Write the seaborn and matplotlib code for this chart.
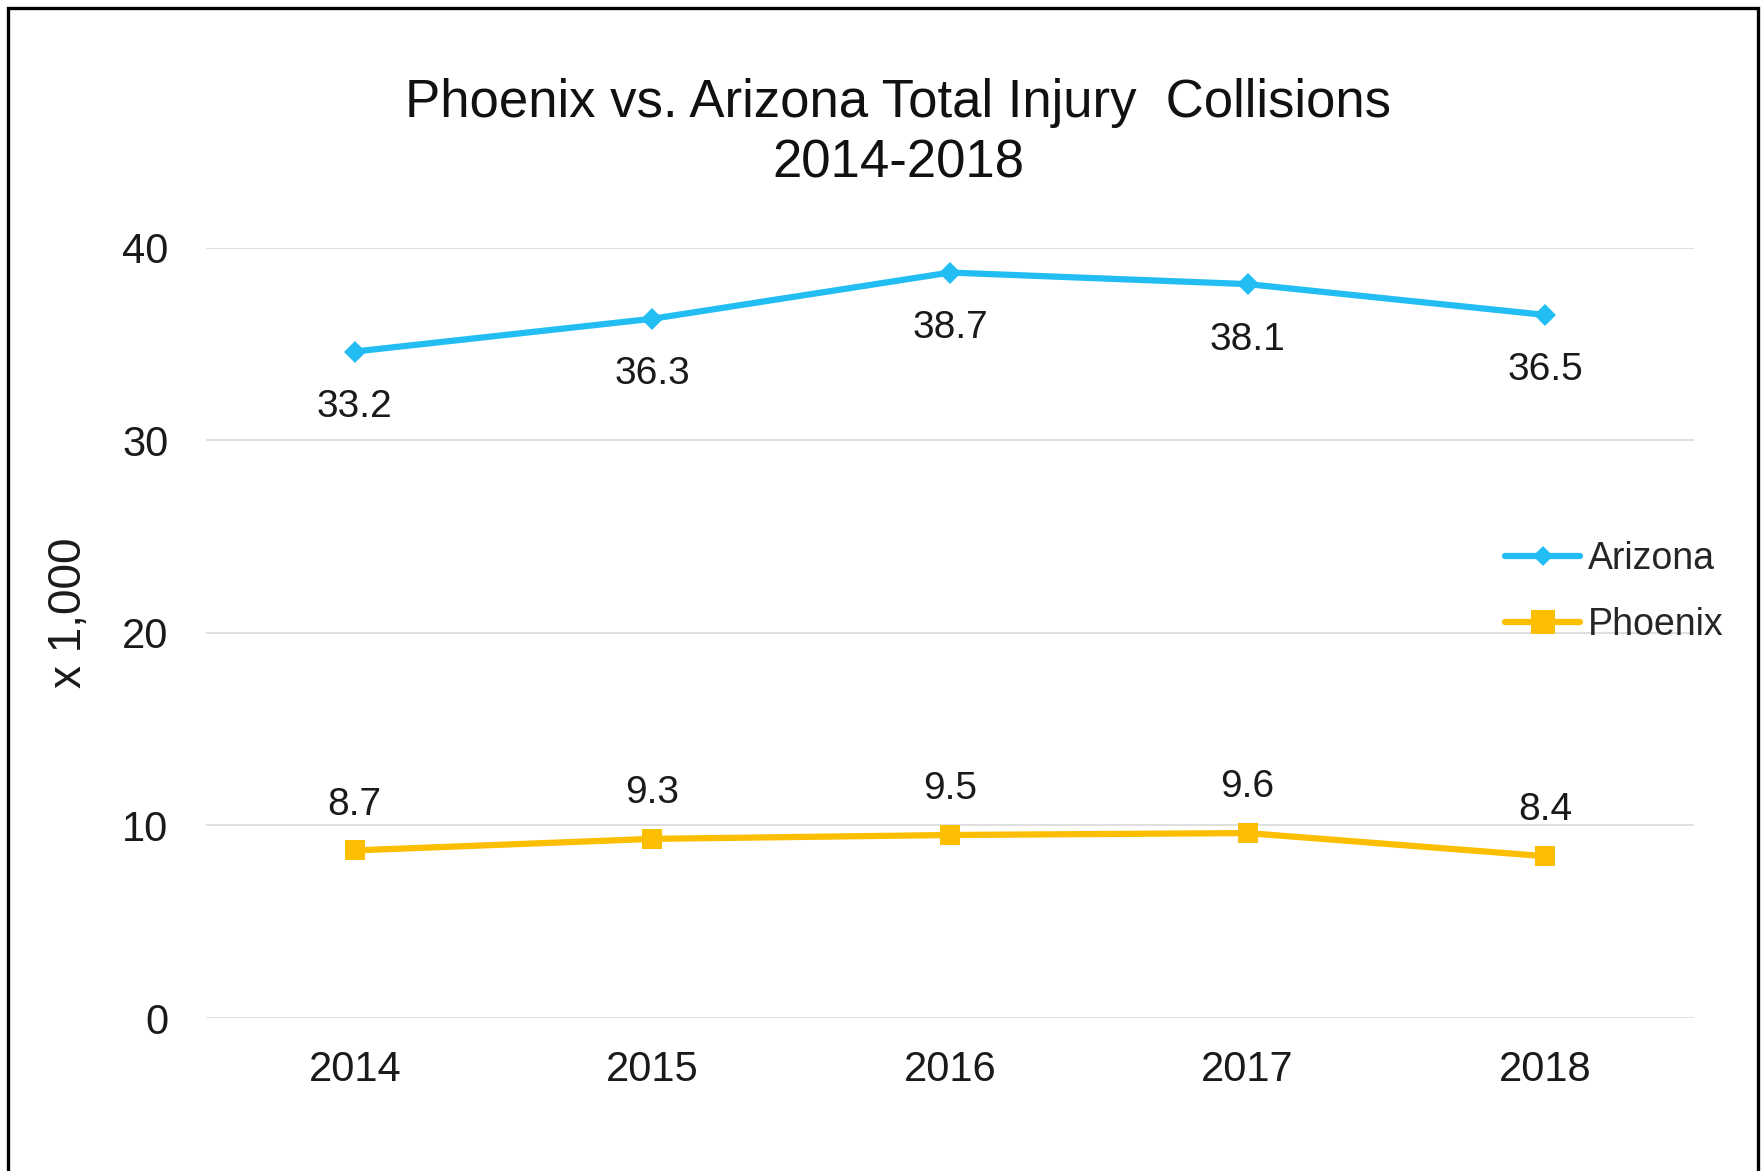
import matplotlib
matplotlib.use("Agg")
import matplotlib.pyplot as plt
import seaborn as sns
import pandas as pd
from matplotlib.patches import Rectangle

years = [2014, 2015, 2016, 2017, 2018]
arizona = [34.6, 36.3, 38.7, 38.1, 36.5]
arizona_labels = ["33.2", "36.3", "38.7", "38.1", "36.5"]
phoenix = [8.7, 9.3, 9.5, 9.6, 8.4]
phoenix_labels = ["8.7", "9.3", "9.5", "9.6", "8.4"]
series_names = ["Arizona", "Phoenix"]
yticks = [0, 10, 20, 30, 40]

df = pd.DataFrame({
    "Year": years * 2,
    "Value": arizona + phoenix,
    "Series": [series_names[0]] * len(years) + [series_names[1]] * len(years),
})

sns.set_theme(style="white")
plt.rcParams["font.family"] = ["Liberation Sans", "DejaVu Sans"]

blue = "#22BDF2"
gold = "#FCBE00"

fig = plt.figure(figsize=(17.64, 11.71), dpi=100)
ax = fig.add_axes([206 / 1764, 1 - 1018 / 1171, (1694 - 206) / 1764, (1018 - 247.5) / 1171])

sns.lineplot(data=df, x="Year", y="Value", hue="Series", style="Series",
             palette={"Arizona": blue, "Phoenix": gold},
             markers={"Arizona": "D", "Phoenix": "s"},
             dashes=False, linewidth=4.5, ax=ax, legend=True,
             markeredgewidth=0)
for line in ax.lines:
    if line.get_marker() == "D":
        line.set_markersize(11)
    elif line.get_marker() == "s":
        line.set_markersize(15)

for x, v, t in zip(years, arizona, arizona_labels):
    ax.annotate(t, (x, v), xytext=(0, -40), textcoords="offset points",
                ha="center", va="center", fontsize=28, color="#1a1a1a")
for x, v, t in zip(years, phoenix, phoenix_labels):
    ax.annotate(t, (x, v), xytext=(0, 33), textcoords="offset points",
                ha="center", va="center", fontsize=28, color="#1a1a1a")

ax.set_xlim(2013.5, 2018.5)
ax.set_ylim(0, 40)
ax.set_xticks(years)
ax.set_xticklabels([str(y) for y in years])
ax.set_yticks(yticks)
ax.set_yticklabels([str(y) for y in yticks])
ax.tick_params(axis="y", length=0, pad=27, labelsize=30, labelcolor="#1a1a1a")
ax.tick_params(axis="x", length=0, pad=23, labelsize=30, labelcolor="#1a1a1a")
ax.grid(axis="y", color="#DCDCDC", linewidth=1.3)
ax.grid(axis="x", visible=False)
for s in ax.spines.values():
    s.set_visible(False)
ax.set_xlabel("")
ax.set_ylabel("x 1,000", fontsize=33, color="#1a1a1a")
ax.yaxis.set_label_coords((91 - 206) / (1694 - 206), (1018 - 613) / (1018 - 247.5))

handles, labels = ax.get_legend_handles_labels()
ax.get_legend().remove()
leg = fig.legend(handles, labels, loc="center left",
                 bbox_to_anchor=(1505 / 1764, 1 - 592 / 1171),
                 frameon=False, fontsize=27, handlelength=2.0,
                 handletextpad=0.2, labelspacing=0.78, borderpad=0,
                 borderaxespad=0)
for h in leg.legend_handles:
    h.set_linewidth(4.5)
    if h.get_marker() == "s":
        h.set_markersize(17)
    elif h.get_marker() == "D":
        h.set_markersize(10)

fig.text(898 / 1764, 1 - 103 / 1171, "Phoenix vs. Arizona Total Injury  Collisions",
         ha="center", va="center", fontsize=38, color="#111111")
fig.text(898 / 1764, 1 - 163 / 1171, "2014-2018",
         ha="center", va="center", fontsize=38, color="#111111")

fig.patches.append(Rectangle((8 / 1764, -0.02), (1758 - 8) / 1764, 1.02 - 8 / 1171,
                             transform=fig.transFigure, fill=False,
                             edgecolor="black", linewidth=2.4, figure=fig))

fig.savefig("out.png", dpi=100, facecolor="white")
